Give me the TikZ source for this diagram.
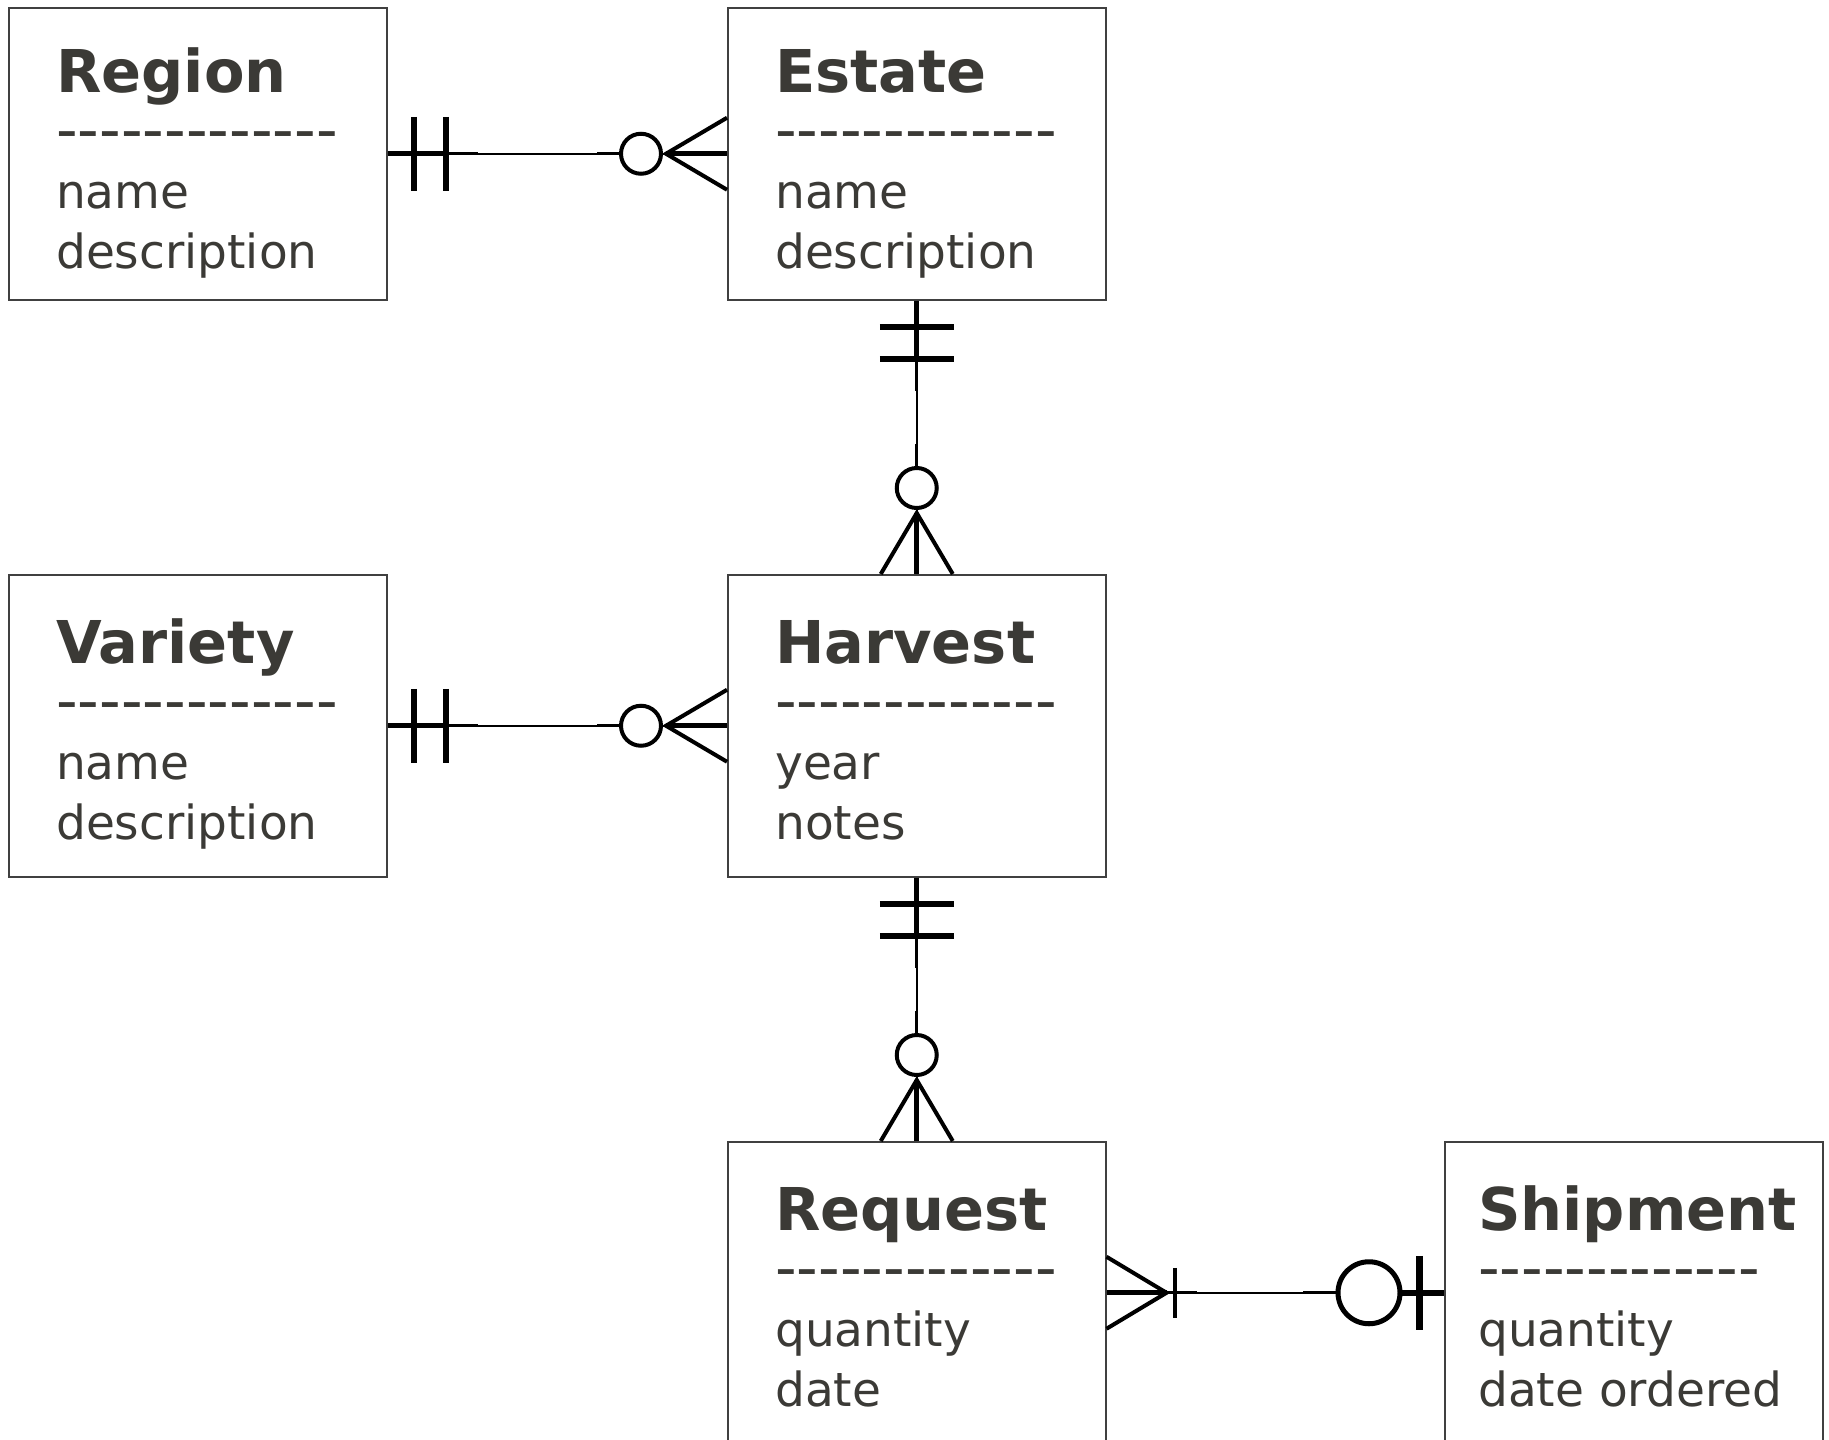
\documentclass[tikz,border=0pt]{standalone}
\usepackage{fontspec}
\setmainfont{DejaVu Sans}
\usetikzlibrary{calc}
\definecolor{inkgray}{RGB}{59,58,54}
\colorlet{boxdraw}{black!75}
\newcommand{\dashrow}{-\kern0pt-\kern0pt-\kern0pt-\kern0pt-\kern0pt-\kern0pt-\kern0pt-\kern0pt-\kern0pt-\kern0pt-\kern0pt-\kern0pt-}

\begin{document}
\begin{tikzpicture}[x=1pt,y=-1pt,
    entity/.style={draw=boxdraw,line width=1.5pt,anchor=north west,minimum width=378pt,inner sep=0pt},
    enttitle/.style={anchor=base west,inner sep=0pt,text=inkgray,font=\fontsize{59}{70}\selectfont\bfseries},
    entrule/.style={anchor=base west,inner sep=0pt,text=inkgray,font=\fontsize{60}{70}\selectfont},
    entattrs/.style={anchor=base west,inner sep=0pt,align=left,text=inkgray,font=\fontsize{47}{60}\selectfont},
    link/.style={line width=1.5pt},
    bar/.style={line width=6pt},
    prong/.style={line width=4pt}]
    \useasboundingbox (0,0) rectangle (1829,1440);
    % entities
    \foreach \n/\x/\y/\h/\o/\s/\t/\a in {region/8/7/292pt/48/0/Region/{name\\description},
        estate/727/7/292pt/48/0/Estate/{name\\description},
        variety/8/574/302pt/48/4/Variety/{name\\description},
        harvest/727/574/302pt/48/4/Harvest/{year\\notes},
        request/727/1141/302pt/48/4/Request/{quantity\\date},
        shipment/1444/1141/302pt/34/4/Shipment/{quantity\\date ordered}}{
      \node[entity,minimum height=\h] (\n) at (\x,\y) {};
      \node[enttitle] (\n-title) at ($(\n.north west)+(\o,85+\s)$) {\t};
      \node[entrule] (\n-rule) at ($(\n.north west)+(\o,143+\s)$) {\dashrow};
      \node[entattrs] (\n-attrs) at ($(\n.north west)+(\o,261+\s)$) {\a};
    }
    % one and only one -- zero or many
    \foreach \a/\b/\dx/\dy in {region.east/estate.west/1/0,variety.east/harvest.west/1/0,
        estate.south/harvest.north/0/1,harvest.south/request.north/0/1}{
      \draw[link] (\a) -- (\b);
      \draw[line width=5pt] (\a) -- ($(\a)+(60*\dx,60*\dy)$);
      \draw[line width=3pt] ($(\a)+(60*\dx,60*\dy)$) -- ($(\a)+(90*\dx,90*\dy)$);
      \foreach \d in {26,58}
        \draw[bar] ($(\a)+(\d*\dx-37*\dy,\d*\dy-37*\dx)$) -- ($(\a)+(\d*\dx+37*\dy,\d*\dy+37*\dx)$);
      \draw[line width=3pt] ($(\b)-(130*\dx,130*\dy)$) -- ($(\b)-(106*\dx,106*\dy)$);
      \draw[prong,fill=white] ($(\b)-(86*\dx,86*\dy)$) circle[radius=20];
      \draw[prong] ($(\b)+(36*\dy,36*\dx)$) -- ($(\b)-(61*\dx,61*\dy)$) -- ($(\b)-(36*\dy,36*\dx)$);
      \draw[line width=5pt] ($(\b)-(61*\dx,61*\dy)$) -- (\b);
    }
    % one or many -- zero or one
    \draw[link] (request.east) -- (shipment.west);
    \draw[prong] ($(request.east)+(0,-36)$) -- ($(request.east)+(60,0)$) -- ($(request.east)+(0,36)$);
    \draw[line width=5pt] (request.east) -- ($(request.east)+(60,0)$);
    \draw[line width=3pt] ($(request.east)+(60,0)$) -- ($(request.east)+(90,0)$);
    \draw[line width=4pt] ($(request.east)+(68,-25)$) -- ($(request.east)+(68,25)$);
    \draw[line width=3pt] ($(shipment.west)+(-141,0)$) -- ($(shipment.west)+(-106,0)$);
    \draw[line width=5pt,fill=white] ($(shipment.west)+(-75,0)$) circle[radius=31];
    \draw[line width=6pt] ($(shipment.west)+(-44,0)$) -- (shipment.west);
    \draw[line width=7pt] ($(shipment.west)+(-25,-37)$) -- ($(shipment.west)+(-25,37)$);
\end{tikzpicture}
\end{document}
